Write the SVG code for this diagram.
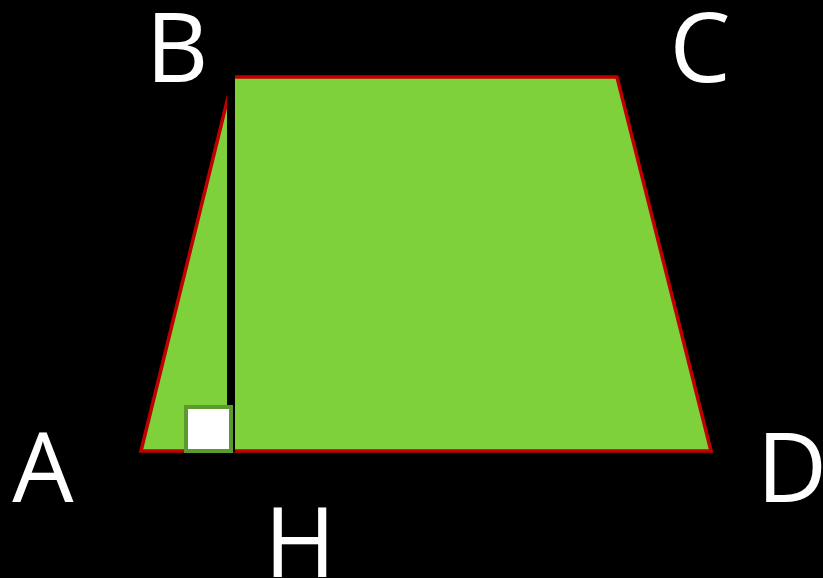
<svg xmlns="http://www.w3.org/2000/svg" width="823" height="578" viewBox="0 0 823 578">
<style>
.lbl{font-family:"Open Sans","Noto Sans","DejaVu Sans",sans-serif;font-size:97px;fill:#ffffff;text-anchor:middle}
</style>
<rect x="0" y="0" width="823" height="578" fill="#000000"/>
<g id="trapezoid">
<polygon points="141,451 233,77 617,77 711,451" fill="#7fd13b" stroke="#c00000" stroke-width="3.5" stroke-linejoin="miter"/>
</g>
<g id="connectors">
<line x1="231" y1="72" x2="231" y2="452" stroke="#000000" stroke-width="8"/>
</g>
<g id="right-angle">
<rect x="186" y="407" width="45" height="44" fill="#ffffff" stroke="#5a9a2e" stroke-width="4"/>
</g>
<g id="label-A"><text class="lbl" x="43" y="502">A</text></g>
<g id="label-B"><text class="lbl" x="177" y="82">B</text></g>
<g id="label-C"><text class="lbl" x="700" y="82">C</text></g>
<g id="label-D"><text class="lbl" x="792" y="502">D</text></g>
<g id="label-H"><text class="lbl" x="300" y="577">H</text></g>
</svg>
